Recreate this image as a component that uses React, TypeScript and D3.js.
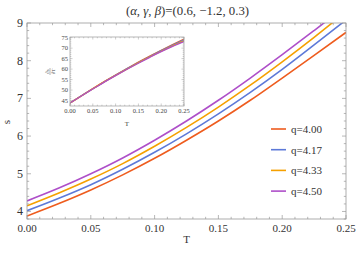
import React from "react";
import * as d3 from "d3";

const T = [0, 0.025, 0.05, 0.075, 0.1, 0.125, 0.15, 0.175, 0.2, 0.225, 0.25];
const qLabels = ["q=4.00", "q=4.17", "q=4.33", "q=4.50"];
const colors = ["#EE5C1E", "#5D79D8", "#F5A000", "#AE4FC9"];
const s400 = [3.88, 4.21, 4.57, 4.97, 5.41, 5.89, 6.4, 6.95, 7.54, 8.14, 8.75];
const s417 = [4.02, 4.35, 4.71, 5.12, 5.57, 6.06, 6.59, 7.16, 7.77, 8.42, 9.08];
const s433 = [4.15, 4.49, 4.86, 5.27, 5.73, 6.23, 6.77, 7.35, 7.97, 8.62, 9.3];
const s450 = [4.28, 4.62, 5.0, 5.42, 5.89, 6.4, 6.95, 7.54, 8.16, 8.8, 9.45];
const d400 = [43.8, 47.3, 50.7, 54.0, 57.2, 60.3, 63.3, 66.2, 69.0, 71.7, 74.3];
const d417 = [43.8, 47.3, 50.6, 53.9, 57.1, 60.2, 63.1, 66.0, 68.8, 71.4, 73.9];
const d433 = [43.8, 47.2, 50.6, 53.9, 57.0, 60.0, 63.0, 65.8, 68.5, 71.1, 73.5];
const d450 = [43.8, 47.2, 50.5, 53.8, 56.9, 59.9, 62.8, 65.6, 68.3, 70.8, 73.1];
const sSeries = [s400, s417, s433, s450];
const dSeries = [d400, d417, d433, d450];
const xTicks = [0, 0.05, 0.1, 0.15, 0.2, 0.25];
const yTicks = [4, 5, 6, 7, 8, 9];
const insetYTicks = [45, 50, 55, 60, 65, 70, 75];

const serif = "'Liberation Serif', 'DejaVu Serif', serif";
const frameColor = "#9a9a9a";

export default function App() {
  const W = 357, H = 254;
  const L = 27, R = 346, Tp = 23, B = 219;
  const x = d3.scaleLinear().domain([0, 0.25]).range([L, R]);
  const y = d3.scaleLinear().domain([3.8, 9]).range([B, Tp]);
  const line = d3.line<number>().x((_, i) => x(T[i])).y((v) => y(v)).curve(d3.curveMonotoneX);

  const iL = 70, iR = 184, iT = 37, iB = 106;
  const ix = d3.scaleLinear().domain([0, 0.25]).range([iL, iR]);
  const iy = d3.scaleLinear().domain([42.4, 75.3]).range([iB, iT]);
  const iline = d3.line<number>().x((_, i) => ix(T[i])).y((v) => iy(v)).curve(d3.curveMonotoneX);

  const xMinor = d3.range(0, 0.2501, 0.01);
  const yMinor = d3.range(3.8, 9.0001, 0.2);
  const ixMinor = d3.range(0, 0.2501, 0.01);
  const iyMinor = d3.range(43, 75.01, 1);

  return (
    <svg width={W} height={H} style={{ position: "absolute", left: 0, top: 0 }}>
      <rect width={W} height={H} fill="#fff" />
      <defs>
        <clipPath id="mainclip"><rect x={L} y={Tp} width={R - L} height={B - Tp} /></clipPath>
        <clipPath id="insclip"><rect x={iL} y={iT} width={iR - iL} height={iB - iT} /></clipPath>
      </defs>
      <text x={W / 2 + 9} y={15} textAnchor="middle" fontFamily={serif} fontSize={12.8} fill="#333">
        (<tspan fontStyle="italic">α</tspan>, <tspan fontStyle="italic">γ</tspan>, <tspan fontStyle="italic">β</tspan>)=(0.6, −1.2, 0.3)
      </text>
      {/* main curves */}
      <g clipPath="url(#mainclip)">
        {sSeries.map((s, k) => (
          <path key={k} d={line(s) || ""} fill="none" stroke={colors[k]} strokeWidth={1.6} />
        ))}
      </g>
      {/* frame */}
      <rect x={L} y={Tp} width={R - L} height={B - Tp} fill="none" stroke={frameColor} strokeWidth={0.8} />
      {xMinor.map((v, i) => {
        const major = Math.abs(v / 0.05 - Math.round(v / 0.05)) < 1e-6;
        const len = major ? 4 : 2.2;
        return (
          <g key={"xm" + i} stroke={frameColor} strokeWidth={0.7}>
            <line x1={x(v)} x2={x(v)} y1={B} y2={B - len} />
            <line x1={x(v)} x2={x(v)} y1={Tp} y2={Tp + len} />
          </g>
        );
      })}
      {yMinor.map((v, i) => {
        const major = Math.abs(v - Math.round(v)) < 1e-6;
        const len = major ? 4 : 2.2;
        return (
          <g key={"ym" + i} stroke={frameColor} strokeWidth={0.7}>
            <line x1={L} x2={L + len} y1={y(v)} y2={y(v)} />
            <line x1={R} x2={R - len} y1={y(v)} y2={y(v)} />
          </g>
        );
      })}
      {xTicks.map((v) => (
        <text key={"xt" + v} x={x(v)} y={B + 13} textAnchor="middle" fontFamily={serif} fontSize={11} fill="#333">
          {v.toFixed(2)}
        </text>
      ))}
      {yTicks.map((v) => (
        <text key={"yt" + v} x={L - 4} y={y(v) + 4} textAnchor="end" fontFamily={serif} fontSize={12} fill="#333">
          {v}
        </text>
      ))}
      <text x={(L + R) / 2} y={243} textAnchor="middle" fontFamily={serif} fontSize={11} fill="#333">T</text>
      <text transform={`translate(10,${(Tp + B) / 2 + 1}) rotate(-90)`} textAnchor="middle" fontFamily={serif} fontSize={11} fill="#333">s</text>

      {/* legend */}
      {qLabels.map((lab, k) => {
        const yy = 129 + k * 20.7;
        return (
          <g key={lab}>
            <line x1={271} x2={286} y1={yy} y2={yy} stroke={colors[k]} strokeWidth={1.6} />
            <text x={291} y={yy + 4} fontFamily={serif} fontSize={11} fill="#333">{lab}</text>
          </g>
        );
      })}

      {/* inset */}
      <rect x={iL} y={iT} width={iR - iL} height={iB - iT} fill="#fff" />
      <g clipPath="url(#insclip)">
        {dSeries.map((s, k) => (
          <path key={k} d={iline(s) || ""} fill="none" stroke={colors[k]} strokeWidth={1.3} />
        ))}
      </g>
      <rect x={iL} y={iT} width={iR - iL} height={iB - iT} fill="none" stroke={frameColor} strokeWidth={0.7} />
      {ixMinor.map((v, i) => {
        const major = Math.abs(v / 0.05 - Math.round(v / 0.05)) < 1e-6;
        const len = major ? 2.5 : 1.3;
        return (
          <g key={"ixm" + i} stroke={frameColor} strokeWidth={0.5}>
            <line x1={ix(v)} x2={ix(v)} y1={iB} y2={iB - len} />
            <line x1={ix(v)} x2={ix(v)} y1={iT} y2={iT + len} />
          </g>
        );
      })}
      {iyMinor.map((v, i) => {
        const major = v % 5 === 0;
        const len = major ? 2.5 : 1.3;
        return (
          <g key={"iym" + i} stroke={frameColor} strokeWidth={0.5}>
            <line x1={iL} x2={iL + len} y1={iy(v)} y2={iy(v)} />
            <line x1={iR} x2={iR - len} y1={iy(v)} y2={iy(v)} />
          </g>
        );
      })}
      {xTicks.map((v) => (
        <text key={"ixt" + v} x={ix(v)} y={iB + 7} textAnchor="middle" fontFamily={serif} fontSize={6.5} fill="#444">
          {v.toFixed(2)}
        </text>
      ))}
      {insetYTicks.map((v) => (
        <text key={"iyt" + v} x={iL - 2} y={iy(v) + 2.3} textAnchor="end" fontFamily={serif} fontSize={6.5} fill="#444">
          {v}
        </text>
      ))}
      <text x={(iL + iR) / 2} y={iB + 20} textAnchor="middle" fontFamily={serif} fontSize={7} fill="#444">T</text>
      <g transform={`translate(50,${(iT + iB) / 2}) rotate(-90)`} fontFamily={serif} fontSize={5} fill="#444">
        <text x={0} y={-1} textAnchor="middle">∂s</text>
        <line x1={-3.5} x2={3.5} y1={0} y2={0} stroke="#444" strokeWidth={0.4} />
        <text x={0} y={4.5} textAnchor="middle">∂T</text>
      </g>
    </svg>
  );
}
